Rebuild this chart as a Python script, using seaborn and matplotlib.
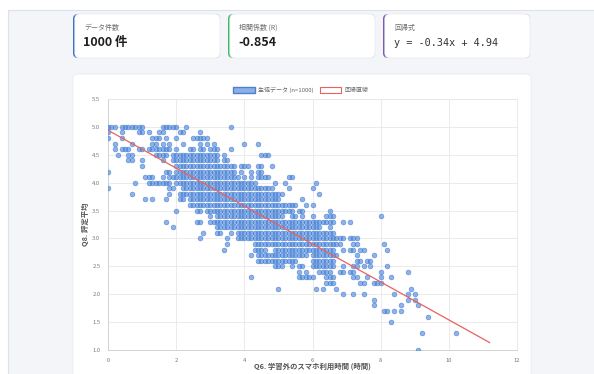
import numpy as np
import pandas as pd
import matplotlib
matplotlib.use("Agg")
import matplotlib.pyplot as plt
import seaborn as sns
from matplotlib.patches import FancyBboxPatch, Patch, Rectangle

sns.set_style("white")
plt.rcParams['font.family'] = ['Noto Sans CJK JP', 'DejaVu Sans']

# ---- data ----
# Q8 grade average levels and the Q6 hours (in tenths) of the points seen on each level
y_levels = [5.0, 4.9, 4.8, 4.7, 4.6, 4.5, 4.4, 4.3, 4.2, 4.1, 4.0, 3.9, 3.8, 3.7, 3.6,
            3.5, 3.4, 3.3, 3.2, 3.1, 3.0, 2.9, 2.8, 2.7, 2.6, 2.5, 2.4, 2.3, 2.2, 2.1,
            2.0, 1.9, 1.8, 1.7, 1.6, 1.5, 1.3, 1.0]
x_rows = [
    "0 1 2 4 5 6 7 8 9 10 16 17 18 19 20 23 36",
    "0 4 9 10 12 15 16 21 22 27",
    "0 4 13 14 15 17 20 25 26 27 28 29",
    "2 7 13 14 16 18 22 27 29 31 40 44",
    "2 4 5 6 9 10 12 13 14 15 16 17 18 20 24 25 27 28 30 31 32 36",
    "3 6 7 14 15 16 17 19 20 21 22 23 24 25 26 27 28 29 30 31 32 34 45 46 47",
    "6 7 10 16 19 20 21 22 23 24 25 26 27 28 29 30 31 32 34 35",
    "10 20 21 22 23 24 25 26 27 28 29 30 31 32 33 34 35 36 37 39 40 41 44 45 48",
    "0 17 18 20 21 22 23 24 25 26 27 28 29 30 31 32 33 34 35 36 37 39 42 44 45",
    "11 12 13 16 18 19 20 21 22 23 24 25 26 27 28 29 30 31 32 33 34 35 36 37 38 40 42 44 45 46 47 53 54",
    "8 12 13 14 15 16 17 18 20 21 22 23 24 25 26 27 28 29 30 31 32 33 34 35 36 37 38 39 40 41 42 43 49 52 61",
    "0 18 19 22 23 24 25 26 27 28 29 30 31 32 33 34 35 36 37 38 39 40 41 42 43 44 45 46 47 48 53 60",
    "7 18 21 22 23 24 25 26 27 28 29 30 31 32 33 34 35 36 37 38 39 40 41 42 43 44 45 46 47 48 49 50 51 62",
    "11 13 17 21 22 24 25 26 27 28 29 30 31 32 33 34 35 36 37 38 39 40 41 42 43 44 45 46 47 48 49 50 57",
    "24 25 26 27 28 29 30 31 32 33 34 35 36 37 38 39 40 41 42 43 44 45 46 47 48 49 50 51 52 53 54 55 58 60",
    "20 26 27 29 30 31 32 33 34 35 36 37 38 39 40 41 42 43 44 45 46 47 48 49 50 51 52 53 54 56 57 65",
    "30 32 33 34 35 36 37 38 39 40 41 42 43 44 45 46 47 48 49 50 51 54 55 57 60 64 65 66 80",
    "17 26 27 30 31 32 33 34 35 36 37 38 39 40 41 42 43 44 45 46 47 48 49 50 51 52 53 54 55 56 57 58 59 60 61 62 63 64 65 66 69 71",
    "19 32 33 34 35 36 37 38 39 40 41 42 43 44 45 46 47 48 49 50 51 52 53 54 55 56 57 58 59 60 61 62 65",
    "28 32 33 36 38 39 40 41 42 43 44 45 46 47 48 49 50 51 52 53 54 55 56 57 58 59 60 61 62 63 64 65 66",
    "27 35 38 39 40 41 42 43 44 45 46 47 48 49 50 51 52 53 54 55 56 57 58 59 60 61 62 63 64 65 66 67 68 69 71 72 73",
    "35 43 44 45 46 47 48 49 50 51 52 53 54 55 56 57 58 59 60 61 62 63 64 65 66 67 68 72 73 81",
    "34 43 44 45 46 49 50 51 52 53 54 55 56 57 58 59 60 61 62 63 64 65 66 69 71 72 74 75 82",
    "42 44 45 46 47 48 49 50 51 52 53 54 55 56 57 58 60 61 62 63 64 65 66 67 73 78",
    "44 45 46 47 48 49 50 51 52 53 54 55 60 61 62 63 64 65 66 73 74 76 77",
    "49 50 51 54 56 57 60 61 62 63 64 65 66 69 72 73 75 77 82",
    "56 58 62 63 64 65 68 69 71 72 80 88",
    "42 56 57 58 59 60 64 65 66 72 73 76 80 83",
    "64 65 66 74 75 78 79 80",
    "50 61 63 67 89",
    "69 72 75 84 88 90",
    "78 88 90",
    "78 86 91",
    "81 82 84 86",
    "94",
    "83",
    "92 102",
    "91",
]
slope = -0.34
intercept = 4.94
line_x = [0.0, 11.2]

card_labels = ["データ件数", "相関係数 (R)", "回帰式"]
card_values = ["1000 件", "-0.854", "y = -0.34x + 4.94"]
legend_labels = ["生徒データ (n=1000)", "回帰直線"]
x_label = "Q6. 学習外のスマホ利用時間 (時間)"
y_label = "Q8. 評定平均"
x_ticks = [0, 2, 4, 6, 8, 10, 12]
y_ticks = [1.0, 1.5, 2.0, 2.5, 3.0, 3.5, 4.0, 4.5, 5.0, 5.5]

xs, ys = [], []
for lvl, row in zip(y_levels, x_rows):
    for v in row.split():
        xs.append(int(v) / 10.0)
        ys.append(lvl)
df = pd.DataFrame({"hours": xs, "grade": ys})
line_df = pd.DataFrame({"hours": line_x,
                        "grade": [slope * v + intercept for v in line_x]})

# ---- figure ----
W, H = 594, 374
fig = plt.figure(figsize=(W / 100, H / 100), dpi=100)
fig.patch.set_facecolor("#f3f5f8")

bg = fig.add_axes([0, 0, 1, 1], zorder=-5)
bg.set_xlim(0, W)
bg.set_ylim(H, 0)
bg.axis("off")

# page frame
bg.add_patch(Rectangle((0, 0), W, 10, facecolor="white", edgecolor="none"))
bg.add_patch(Rectangle((0, 0), 8, H, facecolor="white", edgecolor="none"))
bg.plot([8, W], [10, 10], color="#dde2e8", lw=0.8)
bg.plot([8, 8], [10, H], color="#dde2e8", lw=0.8)

card_x = [73, 228, 383]
card_w = 147
card_colors = ["#3f72c6", "#3db96b", "#7e57b9"]
for i in range(3):
    x0 = card_x[i]
    bg.add_patch(FancyBboxPatch((x0, 14), card_w, 44,
                                boxstyle="round,pad=0,rounding_size=5",
                                facecolor=card_colors[i], edgecolor="none"))
    bg.add_patch(FancyBboxPatch((x0 + 1.8, 14), card_w - 1.8, 44,
                                boxstyle="round,pad=0,rounding_size=5",
                                facecolor="white", edgecolor="#e6e9ee", lw=0.5))
    bg.text(x0 + 11, 28, card_labels[i], fontsize=5.0, color="#6b6b6b",
            va="center", ha="left")
    if i < 2:
        bg.text(x0 + 10, 42, card_values[i], fontsize=9, fontweight="bold",
                color="#1f1f1f", va="center", ha="left")
    else:
        bg.text(x0 + 11, 43, card_values[i], fontsize=7.3,
                family="DejaVu Sans Mono", color="#333333",
                va="center", ha="left")

# chart card
bg.add_patch(FancyBboxPatch((73, 74), 458, 330,
                            boxstyle="round,pad=0,rounding_size=5",
                            facecolor="white", edgecolor="#e6e9ee", lw=0.5))

# ---- main plot ----
ax = fig.add_axes([108 / W, 24 / H, 409 / W, 251 / H])
ax.set_facecolor("white")

sns.scatterplot(data=df, x="hours", y="grade", ax=ax, s=12,
                facecolor=(0.29, 0.52, 0.86, 0.62),
                edgecolor=(0.24, 0.47, 0.82, 0.8), linewidth=0.4, zorder=3)
sns.lineplot(data=line_df, x="hours", y="grade", ax=ax, color="#e8625e",
             lw=0.9, zorder=4)

ax.set_xlim(0, 12)
ax.set_ylim(1.0, 5.5)
ax.set_xticks(x_ticks)
ax.set_xticklabels([str(t) for t in x_ticks])
ax.set_yticks(y_ticks)
ax.set_yticklabels([f"{t:.1f}" for t in y_ticks])
ax.grid(True, color="#e8e8e8", lw=0.6, zorder=0)
ax.set_axisbelow(True)
ax.tick_params(axis="both", length=3, width=0.5, color="#e3e3e3",
               labelsize=4.2, labelcolor="#777777", pad=2.5)
for side in ["top", "right"]:
    ax.spines[side].set_color("#e8e8e8")
    ax.spines[side].set_linewidth(0.6)
for side in ["left", "bottom"]:
    ax.spines[side].set_color("#d2d2d2")
    ax.spines[side].set_linewidth(0.7)
ax.set_xlabel("")
ax.set_ylabel("")
if ax.get_legend() is not None:
    ax.get_legend().remove()

fig.text(312 / W, 1 - 366 / H, x_label, fontsize=5.3, fontweight="bold",
         color="#555555", ha="center", va="center")
fig.text(85 / W, 1 - 224 / H, y_label, fontsize=5.3, fontweight="bold",
         color="#555555", ha="center", va="center", rotation=90)

handles = [Patch(facecolor=(0.36, 0.56, 0.85, 0.7), edgecolor=(0.30, 0.50, 0.82)),
           Patch(facecolor="white", edgecolor="#e8625e", lw=0.8)]
fig.legend(handles, legend_labels, loc="center", bbox_to_anchor=(301 / W, 1 - 90 / H),
           ncol=2, frameon=False, fontsize=4.3, handlelength=3.6,
           handleheight=1.2, columnspacing=1.0, handletextpad=0.6,
           labelcolor="#666666")

fig.savefig("out.png", dpi=100)
